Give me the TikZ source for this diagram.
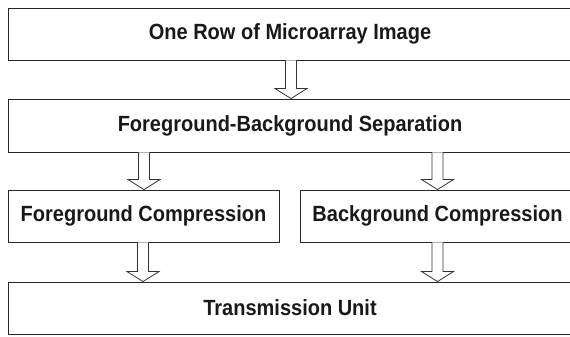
\documentclass[tikz,border=0pt]{standalone}
\usepackage{fontspec}
\setmainfont{Liberation Sans}
\usetikzlibrary{calc}
\tikzset{
  box/.style={draw=black!85, line width=0.9pt, fill=white, rectangle, inner sep=0pt,
    font=\fontsize{20}{24}\selectfont\bfseries, text=black!90},
  harr/.style={draw=black!80, line width=0.8pt, fill=white, line join=miter},
}
\newcommand\tall[1]{\scalebox{1}[1.1]{#1}}
\newcommand\hollowarrow[3]{% x centre, from node, to node
  \draw[harr] let \p1=(#2.south), \p2=(#3.north) in
    (#1-5.5,\y1) -- (#1-5.5,\y2+10) -- (#1-16,\y2+10) -- (#1,\y2) -- (#1+16,\y2+10) -- (#1+5.5,\y2+10) -- (#1+5.5,\y1);
}
\begin{document}
\begin{tikzpicture}[x=1pt,y=1pt]
\clip (0,0) rectangle (570,337);
\fill[white] (0,0) rectangle (570,337);
\node[box, minimum width=564pt, minimum height=52pt] (row) at (290,303) {\tall{One Row of Microarray Image}};
\node[box, minimum width=564pt, minimum height=53pt] (sep) at (290,211.5) {\tall{Foreground-Background Separation}};
\node[box, minimum width=271pt, minimum height=52pt] (fg) at (143.5,121) {\tall{Foreground Compression}};
\node[box, minimum width=275pt, minimum height=52pt] (bg) at (437.5,121) {\tall{Background Compression}};
\node[box, minimum width=564pt, minimum height=52pt] (tx) at (290,29) {\tall{Transmission Unit}};
\hollowarrow{291}{row}{sep}
\hollowarrow{144}{sep}{fg}
\hollowarrow{437.5}{sep}{bg}
\hollowarrow{143}{fg}{tx}
\hollowarrow{437.5}{bg}{tx}
\end{tikzpicture}
\end{document}
